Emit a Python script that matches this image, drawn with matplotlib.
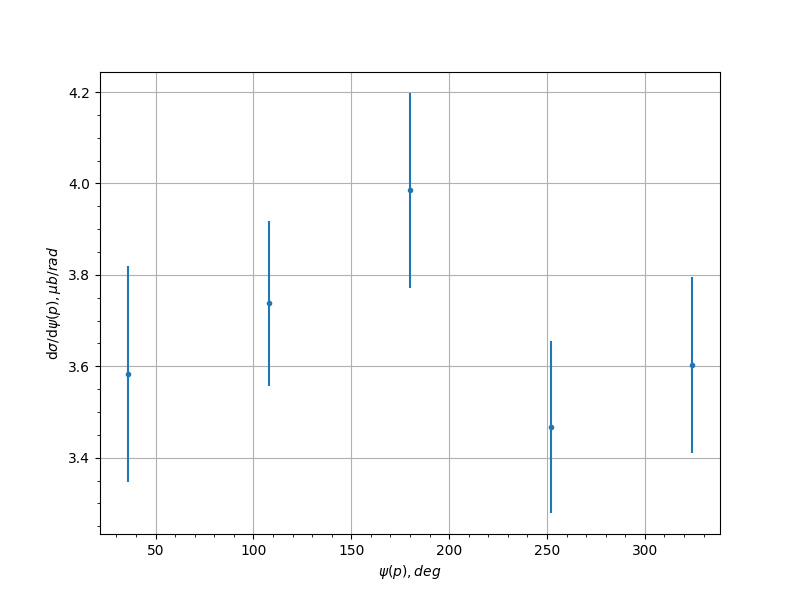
import numpy as np
import matplotlib.pyplot as plt

# angle bins (deg) and cross section with errors
psi = [36, 108, 180, 252, 324]
xsec = [3.583, 3.738, 3.985, 3.467, 3.603]
xsec_err = [0.237, 0.181, 0.213, 0.188, 0.193]

fig, ax = plt.subplots(figsize=(8, 6), dpi=100)
ax.errorbar(psi, xsec, yerr=xsec_err, fmt=".")
ax.set_xlabel(r"$\psi(p), deg$")
ax.set_ylabel(r"d$\sigma$/d$\psi(p), \mu b/rad$")
ax.minorticks_on()
ax.grid(which="major")

fig.savefig("out.png")
